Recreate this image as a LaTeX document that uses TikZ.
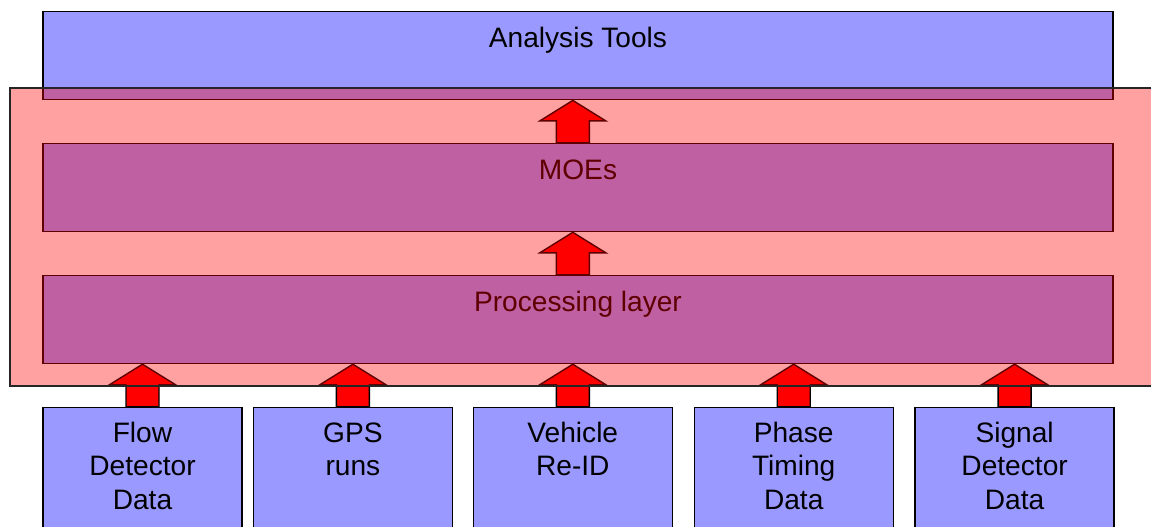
\documentclass[tikz,border=0pt]{standalone}
\usepackage{fontspec}
\setmainfont{Liberation Sans}
\usepackage{xcolor}
\usetikzlibrary{positioning, calc}

\definecolor{toolblue}{HTML}{9999FF}
\definecolor{washred}{HTML}{FF0000}

% block arrow pointing up: #1 = base point, #2 = tip point
\newcommand{\blockup}[2]{%
  \draw[blockarrow] let \p1=(#1), \p2=(#2) in
    (\x1-0.33cm,\y1) -- (\x1-0.33cm,\y1+0.44cm) -- (\x1-0.66cm,\y1+0.44cm) -- (\x2,\y2)
    -- (\x1+0.66cm,\y1+0.44cm) -- (\x1+0.33cm,\y1+0.44cm) -- (\x1+0.33cm,\y1) -- cycle;}
% source text, hung from its first line
\newcommand{\srctext}[1]{\begin{tabular}[t]{@{}c@{}}#1\end{tabular}}

\begin{document}
\begin{tikzpicture}[node distance=0.85cm, font=\fontsize{16}{19}\selectfont]
    \tikzstyle{layer} = [draw=black, fill=toolblue, rectangle, minimum width=21.4cm, inner sep=0pt, text height=0.72cm, text depth=1.04cm, line width=0.8pt]
    \tikzstyle{source} = [draw=black, fill=toolblue, rectangle, minimum width=3.98cm, inner sep=0pt, text height=0.70cm, text depth=1.78cm, line width=0.8pt]
    \tikzstyle{blockarrow} = [draw=black, fill=red, line width=0.8pt, line join=miter]
    \tikzstyle{wash} = [draw=black!85, fill=washred, fill opacity=0.37, line width=0.8pt]

    \useasboundingbox (0,0) rectangle (23.02,-10.54);

    \node [layer, anchor=north] (tools) at (11.56,-0.22) {Analysis Tools};
    \node [layer, below=of tools] (moes) {MOEs};
    \node [layer, below=of moes] (proc) {Processing layer};

    \node [source, below right=0.85cm and 0cm of proc.south west] (flow) {\srctext{Flow\\Detector\\Data}};
    \node [source, right=0.20cm of flow] (gps) {\srctext{GPS\\runs}};
    \node [source, right=0.39cm of gps] (reid) {\srctext{Vehicle\\Re-ID}};
    \node [source, right=0.41cm of reid] (phase) {\srctext{Phase\\Timing\\Data}};
    \node [source, right=0.41cm of phase] (signal) {\srctext{Signal\\Detector\\Data}};

    \blockup{moes.north -| reid}{tools.south -| reid}
    \blockup{proc.north -| reid}{moes.south -| reid}
    \foreach \src in {flow, gps, reid, phase, signal}
        \blockup{\src.north}{proc.south -| \src};

    % translucent red band over the processing part
    \draw [wash] (0.2,-1.76) rectangle (23.6,-7.72);
\end{tikzpicture}
\end{document}
